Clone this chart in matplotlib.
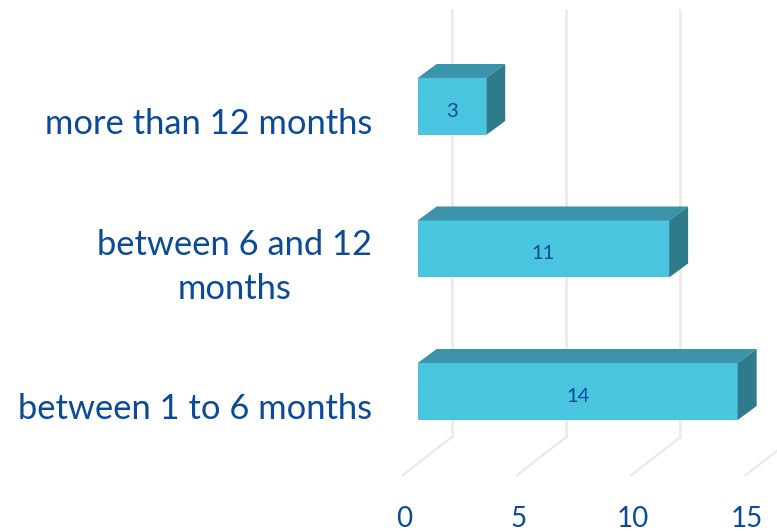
import matplotlib
matplotlib.use('Agg')
import matplotlib.pyplot as plt
from matplotlib.patches import Polygon

plt.rcParams['font.family'] = ['Lato', 'DejaVu Sans']

categories = ['between 1 to 6 months', 'between 6 and 12\nmonths', 'more than 12 months']
values = [14, 11, 3]
ticks = [0, 5, 10, 15]

FRONT = '#49c5e0'
TOP = '#3a93a9'
SIDE = '#2e7b8c'
GRID = '#ebebeb'
TEXT = '#0b4a99'

# fake 3d: depth offsets in data units
BAR_H = 0.40
DX = 0.83
DY = 0.098
WALL_X = 1.49
WALL_BOTTOM = -0.32
WALL_TOP = 2.68
FLOOR_X = -0.65
FLOOR_Y = -0.587

fig = plt.figure(figsize=(7.77, 5.31), dpi=100)
ax = fig.add_axes([0, 0, 1, 1])
ax.set_xlim(-18.275, 15.72)
ax.set_ylim(-0.979, 2.747)
ax.axis('off')

# gridlines on back wall and floor
for t in ticks:
    ax.plot([t + WALL_X, t + WALL_X], [WALL_BOTTOM, WALL_TOP], color=GRID, lw=2, zorder=1)
    ax.plot([t + WALL_X, t + FLOOR_X], [WALL_BOTTOM, FLOOR_Y], color=GRID, lw=1.7, zorder=1)
    ax.text(t - 0.6, -0.893, str(t), color=TEXT, fontsize=20, ha='center', va='center')

# bars
for i, v in enumerate(values):
    lo = i - BAR_H / 2
    hi = i + BAR_H / 2
    ax.barh(i, v, height=BAR_H, color=FRONT, zorder=3)
    ax.add_patch(Polygon([(0, hi), (DX, hi + DY), (v + DX, hi + DY), (v, hi)], color=TOP, lw=0, zorder=3))
    ax.add_patch(Polygon([(v, lo), (v + DX, lo + DY), (v + DX, hi + DY), (v, hi)], color=SIDE, lw=0, zorder=3))
    ax.text(v / 2, i - 0.035, str(v), color=TEXT, fontsize=14.5, ha='center', va='center', zorder=4)
    ax.text(-2.0, i - 0.125, categories[i], color=TEXT, fontsize=24.8, ha='right', va='center',
            multialignment='center', linespacing=1.47)

fig.savefig('out.png', dpi=100)
